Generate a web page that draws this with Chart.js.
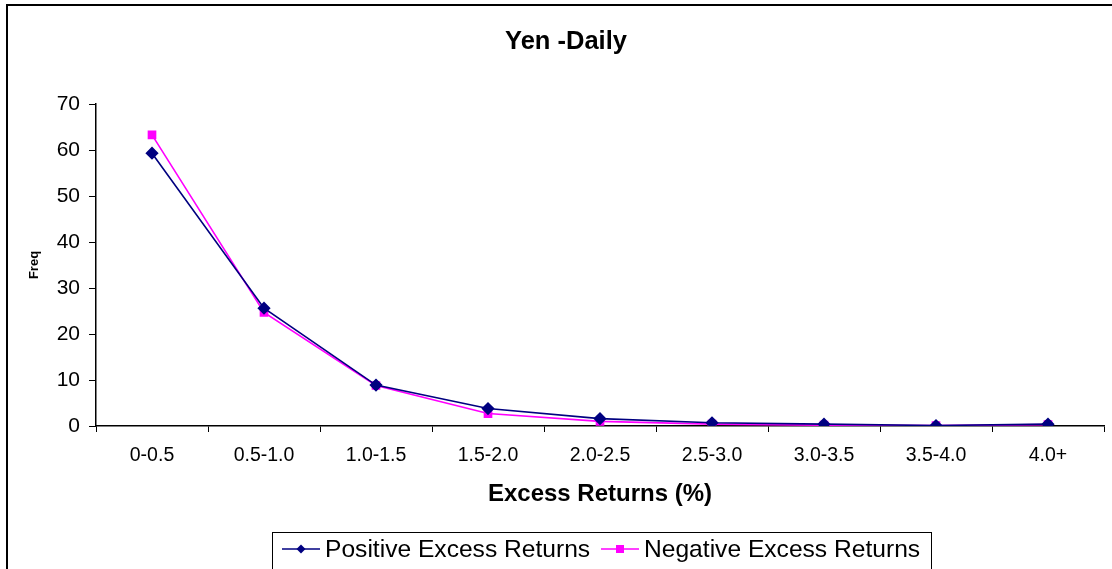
<!DOCTYPE html>
<html>
<head>
<meta charset="utf-8">
<script src="https://cdn.jsdelivr.net/npm/chart.js@4/dist/chart.umd.min.js"></script>
<style>
  html, body { margin: 0; padding: 0; background: #ffffff; }
  #wrap { position: relative; width: 1112px; height: 569px; }
</style>
</head>
<body>
<div id="wrap"><canvas id="chart" width="1112" height="569"></canvas></div>
<script>
// Return bands (%) on the category axis
const categories = ['0-0.5', '0.5-1.0', '1.0-1.5', '1.5-2.0', '2.0-2.5', '2.5-3.0', '3.0-3.5', '3.5-4.0', '4.0+'];
// Frequency (%) of daily positive / negative excess returns in each band
const positiveReturns = [59.3, 25.6, 8.9, 3.8, 1.6, 0.7, 0.4, 0.1, 0.4];
const negativeReturns = [63.3, 24.7, 8.8, 2.7, 1.0, 0.4, 0.2, 0.1, 0.3];
const yTicks = [0, 10, 20, 30, 40, 50, 60, 70];

const chartTitle = 'Yen -Daily';
const xTitle = 'Excess Returns (%)';
const yTitle = 'Freq';
const seriesNames = ['Positive Excess Returns', 'Negative Excess Returns'];

const FONT = '"Liberation Sans", Arial, Helvetica, sans-serif';
const NAVY = '#000080';
const MAGENTA = '#FF00FF';

// Outer frame, title and boxed legend drawn around the plot
const decorations = {
  id: 'decorations',
  beforeDraw(chart) {
    const ctx = chart.ctx;
    ctx.save();
    ctx.fillStyle = '#ffffff';
    ctx.fillRect(0, 0, chart.width, chart.height);
    ctx.strokeStyle = '#000000';
    ctx.lineWidth = 2;
    ctx.beginPath();
    ctx.moveTo(7, chart.height);
    ctx.lineTo(7, 5);
    ctx.lineTo(chart.width, 5);
    ctx.stroke();
    ctx.restore();
  },
  afterDraw(chart) {
    const ctx = chart.ctx;
    ctx.save();
    // title
    ctx.fillStyle = '#000000';
    ctx.font = 'bold 25.5px ' + FONT;
    ctx.textAlign = 'center';
    ctx.textBaseline = 'middle';
    ctx.fillText(chartTitle, 566, 42);

    // legend box
    const bx = 272, by = 532, bw = 659, bh = 50;
    ctx.fillStyle = '#ffffff';
    ctx.fillRect(bx, by, bw, bh);
    ctx.strokeStyle = '#000000';
    ctx.lineWidth = 1;
    ctx.strokeRect(bx + 0.5, by + 0.5, bw, bh);

    const ly = 549;
    const items = [
      { x: 282, color: NAVY, shape: 'diamond', text: seriesNames[0] },
      { x: 601, color: MAGENTA, shape: 'square', text: seriesNames[1] }
    ];
    ctx.font = '24.6px ' + FONT;
    ctx.textAlign = 'left';
    items.forEach(it => {
      ctx.strokeStyle = it.color;
      ctx.lineWidth = 1.5;
      ctx.beginPath();
      ctx.moveTo(it.x, ly);
      ctx.lineTo(it.x + 38, ly);
      ctx.stroke();
      ctx.fillStyle = it.color;
      const cx = it.x + 19;
      if (it.shape === 'diamond') {
        ctx.beginPath();
        ctx.moveTo(cx, ly - 4.5);
        ctx.lineTo(cx + 4.5, ly);
        ctx.lineTo(cx, ly + 4.5);
        ctx.lineTo(cx - 4.5, ly);
        ctx.closePath();
        ctx.fill();
      } else {
        ctx.fillRect(cx - 4, ly - 4, 8, 8);
      }
      ctx.fillStyle = '#000000';
      ctx.fillText(it.text, it.x + 43, ly + 1);
    });
    ctx.restore();
  }
};

new Chart(document.getElementById('chart'), {
  type: 'line',
  data: {
    labels: categories,
    datasets: [
      {
        label: seriesNames[0],
        data: positiveReturns,
        borderColor: NAVY,
        backgroundColor: NAVY,
        borderWidth: 1.6,
        pointStyle: 'rectRot',
        pointRadius: 5.5,
        pointHoverRadius: 5.5,
        tension: 0
      },
      {
        label: seriesNames[1],
        data: negativeReturns,
        borderColor: MAGENTA,
        backgroundColor: MAGENTA,
        borderWidth: 1.6,
        pointStyle: 'rect',
        pointRadius: 5,
        pointHoverRadius: 5,
        tension: 0
      }
    ]
  },
  options: {
    responsive: false,
    animation: false,
    devicePixelRatio: 1,
    layout: { padding: { left: 0, right: 8, top: 104, bottom: 0 } },
    plugins: {
      legend: { display: false },
      title: { display: false },
      tooltip: { enabled: false }
    },
    scales: {
      x: {
        type: 'category',
        offset: true,
        grid: {
          display: true,
          offset: true,
          drawOnChartArea: false,
          drawTicks: true,
          tickLength: 6,
          color: '#000000',
          lineWidth: 1
        },
        border: { display: true, color: '#000000', width: 1.5 },
        ticks: {
          color: '#000000',
          font: { family: FONT, size: 19.5 },
          padding: 12,
          maxRotation: 0,
          autoSkip: false
        },
        title: {
          display: true,
          text: xTitle,
          color: '#000000',
          font: { family: FONT, size: 24, weight: 'bold' },
          padding: { top: 0, bottom: 60 }
        },
        afterFit(scale) { scale.height = 143; }
      },
      y: {
        min: 0,
        max: 70,
        afterBuildTicks(scale) { scale.ticks = yTicks.map(v => ({ value: v })); },
        grid: {
          display: true,
          drawOnChartArea: false,
          drawTicks: true,
          tickLength: 7,
          color: '#000000',
          lineWidth: 1
        },
        border: { display: true, color: '#000000', width: 1.5 },
        ticks: {
          color: '#000000',
          font: { family: FONT, size: 21 },
          padding: 9
        },
        title: {
          display: true,
          text: yTitle,
          color: '#000000',
          font: { family: FONT, size: 13, weight: 'bold' },
          padding: { top: 27, bottom: 0 }
        },
        afterFit(scale) { scale.width = 96; }
      }
    }
  },
  plugins: [decorations]
});
</script>
</body>
</html>
